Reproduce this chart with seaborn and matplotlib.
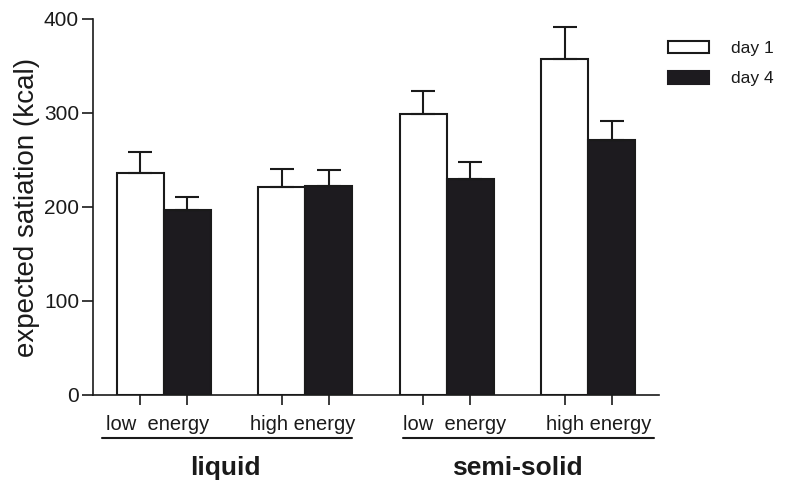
import matplotlib
matplotlib.use("Agg")
import matplotlib.pyplot as plt
import matplotlib.transforms as mtransforms
from matplotlib.patches import Patch
import seaborn as sns
import pandas as pd
import numpy as np

# ---- data ----
conditions = ["liquid low", "liquid high", "semi low", "semi high"]
tick_texts = ["low  energy", "high energy", "low  energy", "high energy"]
groups = ["liquid", "semi-solid"]
days = ["day 1", "day 4"]
day1_mean = [236, 221, 299, 357]
day4_mean = [197, 222, 230, 271]
day1_err = [22, 19, 24, 35]
day4_err = [14, 17, 18, 21]
yticks = [0, 100, 200, 300, 400]

df = pd.DataFrame({
    "condition": conditions * 2,
    "day": [days[0]] * 4 + [days[1]] * 4,
    "value": day1_mean + day4_mean,
})
errs = day1_err + day4_err

sns.set_theme(style="ticks")
plt.rcParams["font.family"] = ["Liberation Sans", "DejaVu Sans"]
TXT = "#1a1a1a"

fig = plt.figure(figsize=(7.88, 4.82), dpi=100)
ax = fig.add_axes([93 / 788, 1 - 395 / 482, (659 - 93) / 788, (395 - 19) / 482])

palette = {"day 1": "white", "day 4": "#1d1b1f"}
sns.barplot(data=df, x="condition", y="value", hue="day", order=conditions,
            hue_order=days, palette=palette, width=0.667, edgecolor="#1a1a1a",
            linewidth=1.5, errorbar=None, legend=False, saturation=1, ax=ax)

# upward-only error bars
bars = [p for p in ax.patches if p.get_height() > 0][:8]
for bar, e in zip(bars, errs):
    xc = bar.get_x() + bar.get_width() / 2
    h = bar.get_height()
    ax.errorbar([xc], [h], yerr=[[0], [e]], fmt="none", ecolor="#1a1a1a",
                elinewidth=1.5, capsize=8.5, capthick=1.5, zorder=1)

ax.set_ylim(0, 400)
ax.set_xlim(-0.5, 3.5)
ax.set_yticks(yticks)
ax.set_yticklabels([str(t) for t in yticks], fontsize=15, color=TXT)
ax.set_ylabel("expected satiation (kcal)", fontsize=20, color=TXT, labelpad=3)
ax.set_xlabel("")

centers = [bar.get_x() + bar.get_width() / 2 for bar in bars]
ax.set_xticks(sorted(centers))
ax.set_xticklabels([])
ax.tick_params(axis="x", length=7, width=1.2, colors="#1a1a1a", direction="out")
ax.tick_params(axis="y", length=8, width=1.2, colors="#1a1a1a", direction="out", pad=2)
for t in ax.get_yticklabels():
    t.set_color(TXT)
sns.despine(ax=ax)
for s in ["left", "bottom"]:
    ax.spines[s].set_linewidth(1.2)
    ax.spines[s].set_color("#1a1a1a")

trans = mtransforms.blended_transform_factory(ax.transData, fig.transFigure)
fy = lambda px: 1 - px / 482

label_left = [-0.41, 0.612, 1.689, 2.701]
for xl, txt in zip(label_left, tick_texts):
    ax.text(xl, fy(430), txt, transform=trans, ha="left", va="baseline",
            fontsize=14.5, color=TXT)

group_spans = [(-0.434, 1.328), (1.694, 3.464)]
group_centers = [0.432, 2.498]
for (a, b), xc, g in zip(group_spans, group_centers, groups):
    ax.plot([a, b], [fy(438), fy(438)], transform=trans, color="#1a1a1a",
            lw=1.5, clip_on=False)
    ax.text(xc, fy(475), g, transform=trans, ha="center", va="baseline",
            fontsize=19, fontweight="bold", color=TXT)

handles = [Patch(facecolor="white", edgecolor="#1a1a1a", linewidth=1.5),
           Patch(facecolor="#1d1b1f", edgecolor="#1d1b1f", linewidth=1.5)]
fig.legend(handles, days, loc="upper left", bbox_to_anchor=(652 / 788, 1 - 25 / 482),
           frameon=False, fontsize=12.5, handlelength=2.4, handleheight=0.75,
           handletextpad=1.26, labelspacing=0.85, labelcolor=TXT)

fig.savefig("out.png", dpi=100)
